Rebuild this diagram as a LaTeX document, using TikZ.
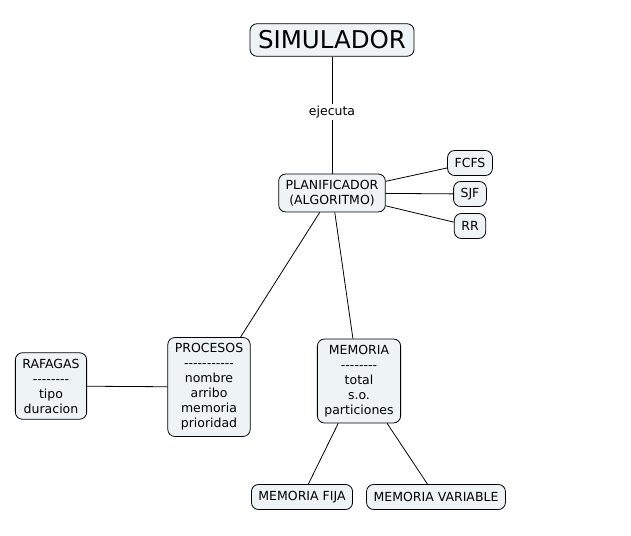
\documentclass[tikz,border=0pt]{standalone}
\usepackage{fontspec}
\setmainfont{DejaVu Sans}
\usepackage{tikz}
\usetikzlibrary{calc}

\definecolor{mapfill}{RGB}{238,244,246}
\newcommand{\dashrow}[1]{\foreach \i in {1,...,#1}{-}}

\tikzset{
  concept/.style={draw=black,fill=mapfill,rounded corners=7pt,line width=0.8pt,
    align=center,inner xsep=7pt,inner ysep=6pt,minimum height=25pt,
    font=\fontsize{12.5}{15}\selectfont},
  link/.style={line width=0.8pt},
  linklabel/.style={fill=white,inner sep=2pt,font=\fontsize{12.5}{15}\selectfont}
}

\begin{document}
\begin{tikzpicture}[x=1pt,y=-1pt]
      \useasboundingbox (0,0) rectangle (631,535);
      % Concepts
      \node[concept,font=\fontsize{24.5}{28}\selectfont,inner xsep=8pt,inner ysep=7pt] (sim) at (332,40) {SIMULADOR};
      \node[concept] (plan) at (332,193) {PLANIFICADOR\\(ALGORITMO)};
      \node[concept] (fcfs) at (470,163) {FCFS};
      \node[concept] (sjf) at (470,194) {SJF};
      \node[concept] (rr) at (470,226) {RR};
      \node[concept] (proc) at (209,387) {PROCESOS\\\dashrow{11}\\nombre\\arribo\\memoria\\prioridad};
      \node[concept] (raf) at (51,386) {RAFAGAS\\\dashrow{8}\\tipo\\duracion};
      \node[concept] (mem) at (359,381) {MEMORIA\\\dashrow{8}\\total\\s.o.\\particiones};
      \node[concept] (fija) at (302,497) {MEMORIA FIJA};
      \node[concept] (var) at (436,497) {MEMORIA VARIABLE};
      % Linking phrase
      \node[linklabel] (ejec) at (332,112) {ejecuta};
      % Links
      \draw[link] (sim) -- (ejec) -- (plan);
      \foreach \N in {fcfs, sjf, rr, proc, mem} {
          \draw[link] (plan) -- (\N);
        }
      \draw[link] (proc) -- (raf);
      \draw[link] (mem) -- (fija);
      \draw[link] (mem) -- (var);
\end{tikzpicture}
\end{document}
